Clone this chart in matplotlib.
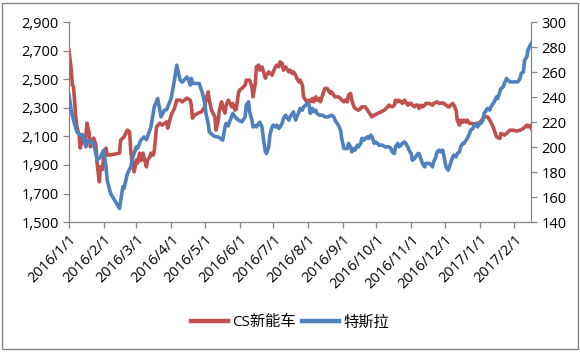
import numpy as np
import pandas as pd
import matplotlib
matplotlib.use("Agg")
import matplotlib.pyplot as plt
from matplotlib.ticker import FuncFormatter
from matplotlib.patches import Rectangle

plt.rcParams["font.family"] = ["Open Sans", "Noto Sans CJK SC", "DejaVu Sans"]

start = pd.Timestamp("2016-01-01")

# CS新能车 (left axis): days since 2016-01-01, index level
cs_days = [0, 2, 3, 4, 6, 7, 9, 10, 12, 13, 15, 16, 18, 19, 21, 22, 24, 25, 27, 28,
           30, 31, 33, 34, 40, 45, 46, 49, 52, 54, 55, 56, 58, 60, 61, 63, 64, 66, 67, 69,
           70, 72, 73, 75, 76, 78, 81, 83, 87, 88, 91, 94, 96, 99, 101, 105, 108, 109, 110, 112,
           115, 118, 121, 122, 124, 125, 127, 130, 131, 133, 134, 136, 137, 139, 140, 142, 145, 146, 148, 149,
           151, 152, 154, 157, 158, 161, 163, 164, 166, 167, 169, 170, 172, 173, 175, 176, 178, 181, 182, 184,
           185, 187, 188, 190, 191, 193, 194, 196, 197, 199, 200, 202, 203, 205, 206, 208, 209, 211, 212, 214,
           215, 217, 218, 220, 221, 223, 224, 226, 227, 228, 230, 231, 233, 234, 236, 237, 240, 242, 243, 245,
           246, 248, 249, 251, 252, 254, 255, 258, 260, 261, 264, 266, 267, 269, 270, 272, 275, 278, 281, 284,
           285, 288, 290, 291, 293, 294, 296, 297, 299, 300, 302, 303, 305, 306, 308, 309, 311, 312, 314, 315,
           317, 318, 321, 324, 325, 328, 330, 333, 334, 336, 338, 339, 340, 342, 343, 345, 346, 348, 349, 351,
           352, 354, 355, 357, 360, 361, 363, 366, 369, 370, 373, 375, 378, 381, 384, 385, 388, 390, 393, 396,
           399, 402, 405, 408, 409, 411, 412]
cs_values = [2700, 2564, 2459, 2447, 2237, 2167, 2109, 2018, 2088, 2053, 2100, 2193, 2123, 2027, 2074, 2088, 2039, 1913, 1782, 1887,
             1870, 1983, 2018, 1969, 1975, 1983, 2074, 2097, 2144, 2132, 2004, 1934, 1852, 1934, 1913, 1983, 1930, 1983, 1948, 1887,
             1934, 1955, 1983, 1969, 2000, 2167, 2193, 2179, 2202, 2158, 2249, 2298, 2354, 2354, 2342, 2368, 2354, 2319, 2228, 2249,
             2263, 2272, 2307, 2354, 2412, 2354, 2284, 2237, 2144, 2214, 2284, 2342, 2307, 2263, 2319, 2354, 2307, 2330, 2284, 2290,
             2403, 2424, 2436, 2459, 2494, 2494, 2447, 2377, 2470, 2587, 2599, 2564, 2587, 2560, 2508, 2529, 2552, 2529, 2552, 2587,
             2599, 2587, 2622, 2610, 2564, 2587, 2575, 2552, 2564, 2540, 2552, 2529, 2506, 2482, 2494, 2459, 2377, 2354, 2342, 2354,
             2342, 2366, 2342, 2377, 2354, 2366, 2342, 2389, 2412, 2436, 2436, 2424, 2401, 2412, 2389, 2377, 2377, 2366, 2354, 2342,
             2354, 2342, 2389, 2401, 2354, 2307, 2296, 2284, 2296, 2307, 2307, 2284, 2272, 2249, 2237, 2249, 2261, 2272, 2284, 2307,
             2319, 2307, 2319, 2354, 2342, 2354, 2342, 2331, 2354, 2342, 2319, 2331, 2331, 2319, 2307, 2319, 2319, 2296, 2319, 2307,
             2319, 2331, 2331, 2319, 2331, 2342, 2331, 2335, 2331, 2319, 2307, 2307, 2319, 2331, 2319, 2284, 2214, 2179, 2214, 2200,
             2214, 2200, 2214, 2191, 2191, 2179, 2191, 2195, 2226, 2237, 2237, 2214, 2167, 2097, 2086, 2121, 2109, 2121, 2144, 2144,
             2137, 2144, 2156, 2179, 2167, 2179, 2156]

# 特斯拉 (right axis): days since 2016-01-01, share price
tsla_days = [0, 2, 4, 7, 10, 12, 15, 16, 18, 21, 22, 24, 25, 28, 31, 33, 34, 37, 45, 48,
             49, 52, 55, 57, 60, 61, 64, 67, 69, 72, 73, 76, 79, 81, 82, 85, 87, 91, 94, 96,
             99, 101, 105, 106, 108, 109, 110, 116, 119, 121, 122, 124, 125, 128, 130, 133, 137, 139, 140, 142,
             143, 146, 148, 151, 154, 157, 158, 160, 161, 163, 164, 166, 167, 169, 170, 172, 173, 175, 176, 178,
             179, 181, 182, 184, 185, 187, 188, 190, 191, 193, 194, 196, 197, 199, 200, 202, 203, 205, 206, 208,
             209, 211, 212, 214, 215, 217, 218, 220, 221, 223, 226, 228, 231, 234, 236, 237, 239, 240, 242, 243,
             245, 248, 249, 251, 252, 254, 255, 257, 258, 260, 261, 263, 264, 266, 267, 269, 270, 272, 273, 275,
             276, 279, 282, 285, 287, 288, 290, 291, 293, 294, 296, 297, 299, 300, 302, 303, 305, 306, 308, 309,
             311, 312, 314, 315, 317, 318, 320, 321, 323, 324, 325, 327, 328, 330, 331, 333, 334, 336, 338, 339,
             340, 342, 343, 345, 346, 348, 349, 351, 352, 354, 355, 357, 358, 360, 361, 363, 364, 366, 367, 369,
             370, 372, 373, 375, 376, 378, 379, 381, 382, 384, 385, 387, 388, 390, 391, 393, 396, 399, 400, 402,
             403, 405, 406, 408, 409, 411, 412]
tsla_values = [241.6, 229.6, 221.6, 212.2, 209.6, 210.0, 200.2, 205.6, 204.0, 204.2, 202.0, 195.0, 189.6, 192.2, 197.6, 184.2, 173.6, 163.0, 151.0, 168.2,
               167.0, 178.9, 184.2, 192.2, 200.2, 199.0, 205.6, 208.2, 206.0, 213.6, 216.2, 232.2, 239.0, 229.6, 224.2, 229.6, 230.0, 239.0, 253.6, 265.6,
               253.6, 252.0, 256.2, 255.0, 249.6, 255.0, 251.0, 251.0, 243.0, 235.0, 227.0, 219.0, 212.2, 209.6, 208.5, 208.2, 205.6, 216.2, 219.0, 217.0,
               220.2, 227.0, 224.2, 221.6, 220.2, 224.2, 233.6, 236.2, 228.0, 221.6, 216.2, 217.0, 216.2, 219.0, 220.0, 216.2, 208.2, 196.2, 194.9, 200.2,
               209.6, 216.2, 217.6, 216.2, 217.6, 214.9, 216.2, 219.0, 222.9, 225.6, 224.2, 221.6, 224.2, 227.0, 228.2, 221.6, 224.2, 228.2, 231.0, 229.6,
               232.2, 233.6, 235.0, 233.6, 227.0, 231.0, 228.2, 229.6, 227.0, 225.6, 225.6, 224.2, 224.2, 225.6, 224.2, 221.6, 219.0, 217.6, 213.6, 207.0,
               198.9, 198.9, 203.0, 200.2, 196.2, 198.9, 197.6, 201.6, 200.2, 203.0, 207.0, 205.6, 207.0, 208.2, 206.9, 209.6, 208.2, 203.0, 204.2, 203.0,
               201.6, 201.6, 200.2, 200.2, 198.9, 196.2, 194.9, 200.2, 203.0, 200.2, 201.6, 203.0, 204.2, 203.0, 200.2, 197.6, 194.9, 189.6, 190.9, 192.2,
               194.9, 194.9, 189.6, 187.0, 184.2, 187.0, 187.0, 187.0, 185.6, 184.2, 188.2, 192.2, 196.2, 197.6, 196.2, 197.6, 193.6, 184.2, 181.6, 184.2,
               186.9, 192.2, 193.6, 192.2, 194.9, 196.2, 200.2, 203.0, 203.0, 205.6, 207.0, 211.0, 213.6, 214.9, 217.6, 218.9, 216.2, 218.9, 218.9, 221.6,
               227.0, 229.6, 231.0, 229.6, 232.2, 235.0, 236.2, 240.2, 238.9, 244.2, 247.0, 248.2, 251.0, 255.0, 253.6, 252.2, 252.2, 252.2, 252.2, 255.0,
               259.0, 260.2, 269.6, 272.2, 277.6, 281.6, 283.0]

left_ticks = list(range(1500, 3000, 200))
right_ticks = list(range(140, 320, 20))

cs_dates = start + pd.to_timedelta(cs_days, unit="D")
tsla_dates = start + pd.to_timedelta(tsla_days, unit="D")

month_ticks = pd.date_range("2016-01-01", "2017-02-01", freq="MS")
month_labels = [f"{d.year}/{d.month}/1" for d in month_ticks]

red = "#C0504D"
blue = "#4F81BD"
axis_gray = "#868686"

fig = plt.figure(figsize=(5.8, 3.52), dpi=100)
ax = fig.add_axes([0.119, 0.369, 0.797, 0.568])
ax2 = ax.twinx()

l1, = ax.plot(cs_dates, cs_values, color=red, lw=2.6, solid_joinstyle="round", label="CS新能车")
l2, = ax2.plot(tsla_dates, tsla_values, color=blue, lw=2.6, solid_joinstyle="round", label="特斯拉")

ax.set_ylim(1500, 2900)
ax.set_yticks(left_ticks)
ax.yaxis.set_major_formatter(FuncFormatter(lambda v, p: f"{int(v):,}"))
ax2.set_ylim(140, 300)
ax2.set_yticks(right_ticks)

ax.set_xlim(pd.Timestamp("2016-01-01"), pd.Timestamp("2017-02-16"))
ax.set_xticks(month_ticks)
ax.set_xticklabels(month_labels, rotation=45, ha="right", rotation_mode="anchor")

for a in (ax, ax2):
    a.spines["top"].set_visible(False)
    for s in ("left", "right", "bottom"):
        a.spines[s].set_color(axis_gray)
        a.spines[s].set_linewidth(0.9)
    a.tick_params(colors=axis_gray, labelcolor="black", labelsize=10.5, length=4, width=0.9)
ax.tick_params(axis="x", labelsize=10.5, pad=3)
ax.spines["right"].set_visible(False)
ax2.spines["left"].set_visible(False)
ax2.spines["bottom"].set_visible(False)

leg = fig.legend(handles=[l1, l2], loc="center", bbox_to_anchor=(0.5, 0.083), ncol=2,
                 frameon=False, handlelength=2.4, columnspacing=0.4, handletextpad=0.3,
                 prop={"family": ["Open Sans", "Noto Sans CJK SC"], "size": 11})
for h in leg.legend_handles:
    h.set_linewidth(3.2)

fig.patches.append(Rectangle((0.004, 0.008), 0.992, 0.984, transform=fig.transFigure,
                             fill=False, edgecolor=axis_gray, lw=1.0))

fig.savefig("out.png", dpi=100)
